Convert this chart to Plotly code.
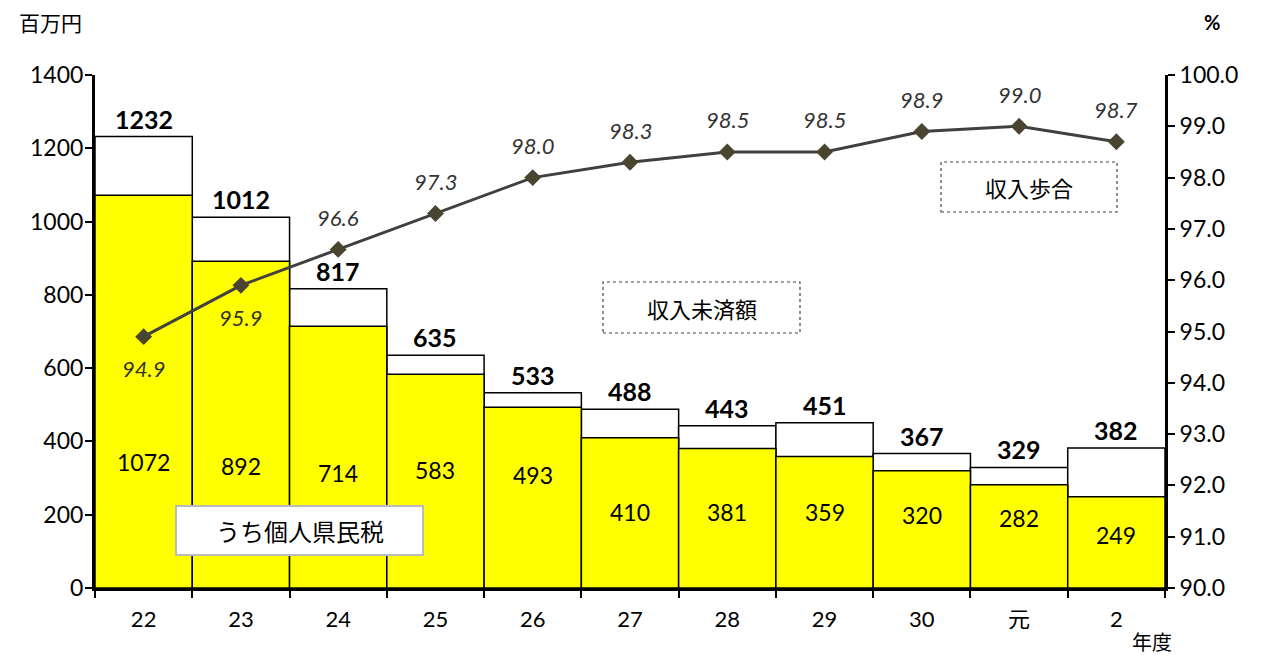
import plotly.graph_objects as go

categories = ["22", "23", "24", "25", "26", "27", "28", "29", "30", "元", "2"]
total_unpaid = [1232, 1012, 817, 635, 533, 488, 443, 451, 367, 329, 382]
individual_tax = [1072, 892, 714, 583, 493, 410, 381, 359, 320, 282, 249]
collection_rate = [94.9, 95.9, 96.6, 97.3, 98.0, 98.3, 98.5, 98.5, 98.9, 99.0, 98.7]

# label placement (data units) for the inside labels
individual_label_y = [344, 333, 314, 322, 308, 207, 207, 207, 199, 191, 145]
rate_label_below = [True, True] + [False] * 9

FONT = "Lato, 'Noto Sans CJK JP', sans-serif"
JP = "'Noto Sans CJK JP', sans-serif"

OFF = 8  # page body margin
W, H = 1256, 650
L, R, T, B = 87, 99, 67, 70
PW, PH = W - L - R, H - T - B


def px(x):  # screen pixel -> paper
    return (x - OFF - L) / PW


def py(y):
    return (H - B - (y - OFF)) / PH


fig = go.Figure()
fig.add_trace(go.Bar(
    x=categories, y=total_unpaid, width=1.0,
    marker=dict(color="white", line=dict(color="black", width=1.5)),
    showlegend=False, hoverinfo="x+y",
))
fig.add_trace(go.Bar(
    x=categories, y=individual_tax, width=1.0,
    marker=dict(color="#FFFF00", line=dict(color="black", width=1.5)),
    showlegend=False, hoverinfo="x+y",
))
fig.add_trace(go.Scatter(
    x=categories, y=collection_rate, yaxis="y2", mode="lines+markers",
    line=dict(color="#404040", width=3),
    marker=dict(symbol="diamond", size=13, color="#4A4530"),
    showlegend=False, hoverinfo="x+y",
))

annotations = []
for i, v in enumerate(total_unpaid):
    annotations.append(dict(x=i, y=v, xref="x", yref="y", text=f"<b>{v}</b>",
                            showarrow=False, xanchor="center", yanchor="bottom",
                            yshift=1,
                            font=dict(family=FONT, size=25, color="black")))
for i, (v, ly) in enumerate(zip(individual_tax, individual_label_y)):
    annotations.append(dict(x=i, y=ly, xref="x", yref="y", text=str(v),
                            showarrow=False, xanchor="center", yanchor="middle",
                            font=dict(family=FONT, size=23, color="black")))
for i, (r, below) in enumerate(zip(collection_rate, rate_label_below)):
    annotations.append(dict(x=i, y=r, xref="x", yref="y2", text=f"<i>{r:.1f}</i>",
                            showarrow=False, yshift=-32 if below else 32,
                            xanchor="center", yanchor="middle",
                            font=dict(family=FONT, size=22, color="#333333")))

shapes = []
# dotted text boxes
boxes = [
    (603, 282, 800, 333, "収入未済額", 22),
    (941, 162, 1117, 212, "収入歩合", 22),
]
for x0, y0, x1, y1, txt, fs in boxes:
    shapes.append(dict(type="rect", xref="paper", yref="paper",
                       x0=px(x0), x1=px(x1), y0=py(y1), y1=py(y0),
                       line=dict(color="#444444", width=1.2, dash="dot"),
                       fillcolor="white", layer="above"))
    annotations.append(dict(x=px((x0 + x1) / 2), y=py((y0 + y1) / 2),
                            xref="paper", yref="paper", text=txt, showarrow=False,
                            xanchor="center", yanchor="middle",
                            font=dict(family=JP, size=fs, color="black")))
# solid-border box
shapes.append(dict(type="rect", xref="paper", yref="paper",
                   x0=px(176), x1=px(423), y0=py(555), y1=py(506),
                   line=dict(color="#BBBBBB", width=2),
                   fillcolor="white", layer="above"))
annotations.append(dict(x=px(299.5), y=py(530.5), xref="paper", yref="paper",
                        text="うち個人県民税", showarrow=False,
                        xanchor="center", yanchor="middle",
                        font=dict(family=JP, size=24, color="black")))

annotations += [
    dict(x=px(50), y=py(22), xref="paper", yref="paper", text="百万円",
         showarrow=False, xanchor="center", yanchor="middle",
         font=dict(family=JP, size=21, color="black")),
    dict(x=px(1212), y=py(22), xref="paper", yref="paper", text="%",
         showarrow=False, xanchor="center", yanchor="middle",
         font=dict(family=FONT, size=20, color="black", weight="bold")),
    dict(x=px(1152), y=py(641), xref="paper", yref="paper", text="年度",
         showarrow=False, xanchor="center", yanchor="middle",
         font=dict(family=JP, size=20, color="black")),
]

axis_common = dict(showline=True, linecolor="black", linewidth=3,
                   ticks="outside", ticklen=7, tickwidth=2, tickcolor="black",
                   showgrid=False, zeroline=False, automargin=False)

fig.update_layout(
    width=W, height=H, barmode="overlay",
    margin=dict(l=L, r=R, t=T, b=B, autoexpand=False),
    paper_bgcolor="white", plot_bgcolor="white",
    font=dict(family=FONT, size=21, color="black"),
    xaxis=dict(type="category", range=[-0.5, 10.5], tickson="boundaries",
               ticklabelstandoff=10,
               tickfont=dict(family=FONT, size=22), **axis_common),
    yaxis=dict(range=[0, 1400], dtick=200, ticklabelstandoff=-3,
               tickfont=dict(family=FONT, size=23), **axis_common),
    yaxis2=dict(range=[90, 100], dtick=1, tickformat=".1f", overlaying="y",
                side="right", tickfont=dict(family=FONT, size=23),
                **axis_common),
    shapes=shapes,
    annotations=annotations,
)

fig.write_html("out.html")
